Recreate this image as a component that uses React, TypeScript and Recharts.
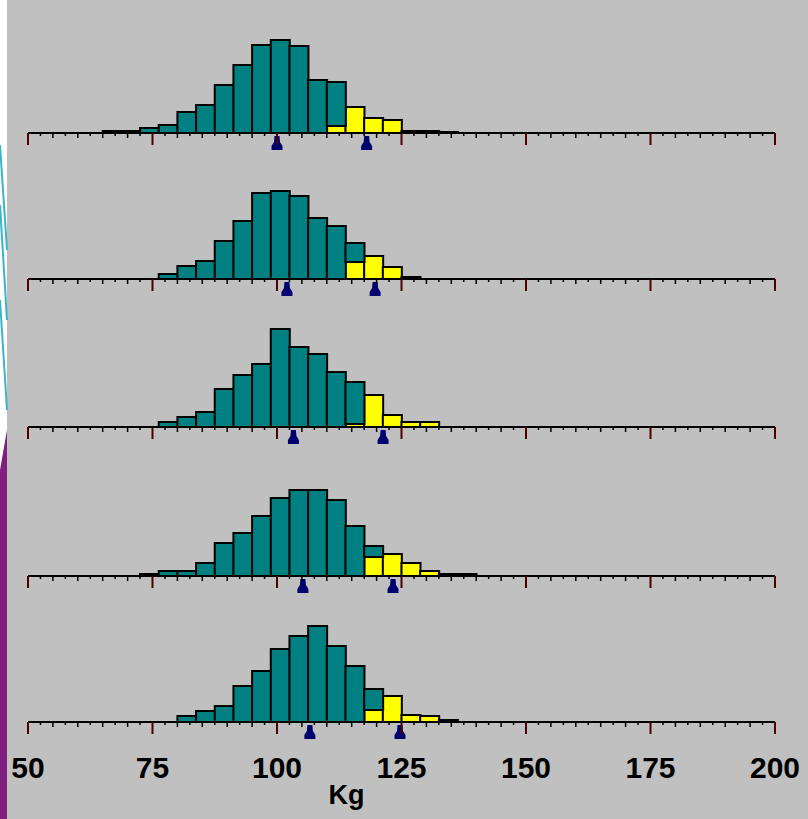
import { BarChart, Bar, XAxis, YAxis, ReferenceDot } from 'recharts';

// histogram bins are 3.75 kg wide, covering 50..200
const binWidth = 3.75;
const binCount = 40;
const binCenters = Array.from({ length: binCount }, (_, i) => 50 + i * binWidth + binWidth / 2);

// values below start at the bin 65-68.75 kg (bin index 4)
const firstBinIndex = 4;

const green1 = [2, 2, 5, 8, 21, 28, 48, 68, 88, 93, 87, 53, 44, 0, 0, 0, 0, 0, 0, 0];
const yellow1 = [0, 0, 0, 0, 0, 0, 0, 0, 0, 0, 0, 0, 7, 26, 15, 13, 2, 2, 1, 0];

const green2 = [0, 0, 0, 5, 13, 18, 38, 58, 86, 88, 83, 61, 53, 19, 0, 0, 0, 0, 0, 0];
const yellow2 = [0, 0, 0, 0, 0, 0, 0, 0, 0, 0, 0, 0, 0, 17, 23, 12, 2, 0, 0, 0];

const green3 = [0, 0, 0, 5, 10, 15, 38, 52, 63, 98, 80, 73, 55, 42, 0, 0, 0, 0, 0, 0];
const yellow3 = [0, 0, 0, 0, 0, 0, 0, 0, 0, 0, 0, 0, 0, 3, 32, 12, 5, 5, 0, 0];

const green4 = [0, 0, 2, 5, 5, 13, 33, 43, 60, 78, 86, 86, 76, 50, 11, 0, 0, 0, 0, 0];
const yellow4 = [0, 0, 0, 0, 0, 0, 0, 0, 0, 0, 0, 0, 0, 0, 19, 22, 13, 5, 2, 2];

const green5 = [0, 0, 0, 0, 6, 11, 16, 36, 51, 73, 86, 96, 76, 56, 21, 0, 0, 0, 0, 0];
const yellow5 = [0, 0, 0, 0, 0, 0, 0, 0, 0, 0, 0, 0, 0, 0, 12, 26, 7, 6, 2, 0];

// blue markers under each axis (kg)
const markers1 = [100, 118];
const markers2 = [102, 119.7];
const markers3 = [103.3, 121.3];
const markers4 = [105.2, 123.3];
const markers5 = [106.6, 124.7];

const majorTicks = [50, 75, 100, 125, 150, 175, 200];
const minorTicks = Array.from({ length: 61 }, (_, i) => 50 + i * 2.5);

const panels = [
  { green: green1, yellow: yellow1, markers: markers1 },
  { green: green2, yellow: yellow2, markers: markers2 },
  { green: green3, yellow: yellow3, markers: markers3 },
  { green: green4, yellow: yellow4, markers: markers4 },
  { green: green5, yellow: yellow5, markers: markers5 },
];

// y pixel of each axis line
const axisY = [133, 279, 427, 576, 722];

const buildRows = (green: number[], yellow: number[]) =>
  binCenters.map((c, i) => {
    const j = i - firstBinIndex;
    return {
      kg: c,
      green: j >= 0 && j < green.length ? green[j] : 0,
      yellow: j >= 0 && j < yellow.length ? yellow[j] : 0,
    };
  });

const AxisTick = (props: any) => {
  const { x, y, payload, showLabel } = props;
  const v = payload.value;
  const major = majorTicks.includes(v);
  const mid = v % 5 === 0;
  const len = major ? 12 : mid ? 5 : 3;
  return (
    <g>
      <line x1={x} x2={x} y1={y} y2={y + len} stroke={major ? '#4a0000' : '#000'} strokeWidth={major ? 2 : 1.5} />
      {showLabel && major && (
        <text
          x={x}
          y={y + 56}
          textAnchor="middle"
          fontFamily="'Liberation Sans', Arial, sans-serif"
          fontWeight="bold"
          fontSize={30}
          fill="#000"
        >
          {v}
        </text>
      )}
    </g>
  );
};

const Marker = (props: any) => {
  const { cx, cy } = props;
  const d = `M${cx - 2.5},${cy + 3} L${cx + 2.5},${cy + 3} L${cx + 3},${cy + 9} L${cx + 5.5},${cy + 13} L${cx + 5.5},${cy + 17} L${cx - 5.5},${cy + 17} L${cx - 5.5},${cy + 13} L${cx - 3},${cy + 9} Z`;
  return <path d={d} fill="#00006e" />;
};

const Panel = ({ green, yellow, markers, last }: any) => {
  const axisH = last ? 97 : 27;
  return (
    <BarChart
      width={808}
      height={120 + axisH}
      data={buildRows(green, yellow)}
      margin={{ top: 20, right: 33, left: 28, bottom: 0 }}
      barCategoryGap={0}
      barGap={0}
    >
      <XAxis
        dataKey="kg"
        type="number"
        domain={[50, 200]}
        allowDataOverflow
        ticks={minorTicks}
        interval={0}
        tickSize={0}
        tickMargin={0}
        tickLine={false}
        height={axisH}
        axisLine={{ stroke: '#000', strokeWidth: 2 }}
        tick={<AxisTick showLabel={last} />}
        label={
          last
            ? {
                value: 'Kg',
                position: 'insideBottom',
                offset: 15,
                dx: -55,
                fill: '#000',
                fontSize: 27,
                fontWeight: 'bold',
                fontFamily: "'Liberation Sans', Arial, sans-serif",
              }
            : undefined
        }
      />
      <YAxis hide domain={[0, 100]} />
      <Bar dataKey="yellow" stackId="s" fill="#ffff00" stroke="#000" strokeWidth={2} isAnimationActive={false} />
      <Bar dataKey="green" stackId="s" fill="#008080" stroke="#000" strokeWidth={2} isAnimationActive={false} />
      {markers.map((m: number) => (
        <ReferenceDot key={m} x={m} y={0} shape={<Marker />} />
      ))}
    </BarChart>
  );
};

export default function App() {
  return (
    <div
      style={{
        position: 'absolute',
        left: 0,
        top: 0,
        width: 808,
        height: 819,
        background: '#c0c0c0',
        overflow: 'hidden',
      }}
    >
      <svg width={808} height={819} style={{ position: 'absolute', left: 0, top: 0 }}>
        <rect x={0} y={0} width={7} height={819} fill="#fff" />
        <line x1={0} y1={145} x2={7} y2={250} stroke="#3cb4c8" strokeWidth={2} />
        <line x1={0} y1={205} x2={7} y2={320} stroke="#3cb4c8" strokeWidth={2} />
        <line x1={0} y1={300} x2={7} y2={410} stroke="#3cb4c8" strokeWidth={2} />
        <polygon points="0,470 7,430 7,819 0,819" fill="#7f1f7f" />
      </svg>
      {panels.map((p, i) => (
        <div key={i} style={{ position: 'absolute', left: 0, top: axisY[i] - 120 }}>
          <Panel green={p.green} yellow={p.yellow} markers={p.markers} last={i === panels.length - 1} />
        </div>
      ))}
    </div>
  );
}
